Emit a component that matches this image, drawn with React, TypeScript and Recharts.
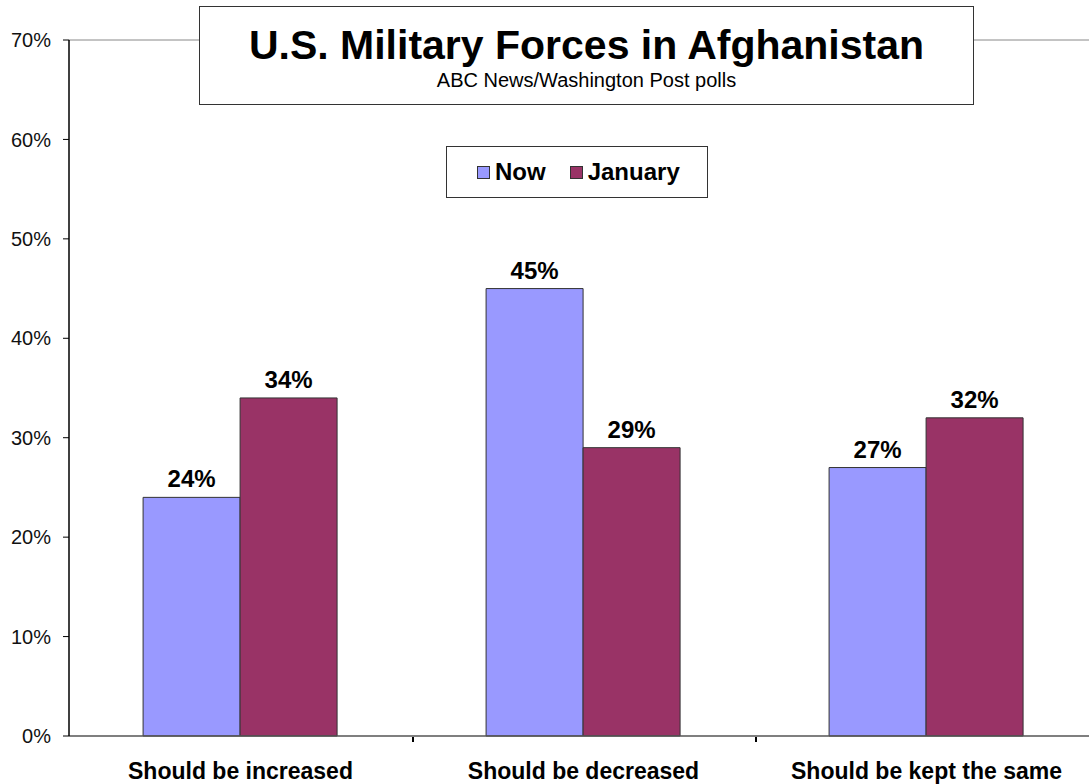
import { BarChart, Bar, XAxis, YAxis, ReferenceLine, LabelList } from 'recharts'

const categories = ['Should be increased', 'Should be decreased', 'Should be kept the same']
const nowValues = [24, 45, 27]
const januaryValues = [34, 29, 32]
const yTicks = [0, 10, 20, 30, 40, 50, 60, 70]

const data = categories.map((name, i) => ({ name, now: nowValues[i], january: januaryValues[i] }))

const FONT = '"Liberation Sans", Arial, sans-serif'
const NOW_COLOR = '#9999ff'
const JAN_COLOR = '#993366'

function XTick({ x, y, payload }: any) {
  return (
    <text x={x} y={y + 35} textAnchor="middle" fontFamily={FONT} fontSize={23} fontWeight="bold" fill="#000">
      {payload.value}
    </text>
  )
}

function LegendBox() {
  const item = (color: string, label: string) => (
    <span style={{ display: 'inline-flex', alignItems: 'center', marginRight: 24 }}>
      <span style={{ width: 11, height: 11, background: color, border: '1px solid #333', marginRight: 5 }} />
      <span>{label}</span>
    </span>
  )
  return (
    <div
      style={{
        position: 'absolute', left: 446, top: 146, width: 262, height: 52, border: '1.5px solid #333',
        background: '#fff', boxSizing: 'border-box', display: 'flex', alignItems: 'center',
        paddingLeft: 30, fontFamily: FONT, fontSize: 24, fontWeight: 'bold', color: '#000',
      }}
    >
      {item(NOW_COLOR, 'Now')}
      {item(JAN_COLOR, 'January')}
    </div>
  )
}

export default function App() {
  return (
    <div style={{ position: 'absolute', left: 0, top: 0, width: 1089, height: 784, overflow: 'hidden', background: '#fff' }}>
      <BarChart
        width={1100}
        height={784}
        data={data}
        margin={{ top: 40, right: 2, left: 0, bottom: 18 }}
        barCategoryGap="21.6%"
        barGap={0}
      >
        <ReferenceLine y={70} stroke="#888" strokeWidth={1} />
        <XAxis
          dataKey="name"
          height={30}
          tick={<XTick />}
          tickLine={false}
          axisLine={{ stroke: '#555', strokeWidth: 1.5 }}
          interval={0}
        />
        <YAxis
          width={69}
          domain={[0, 70]}
          ticks={yTicks}
          tickFormatter={(v) => `${v}%`}
          tick={{ fontFamily: FONT, fontSize: 20, fill: '#111' }}
          tickSize={6}
          tickMargin={12}
          tickLine={{ stroke: '#000' }}
          axisLine={{ stroke: '#000', strokeWidth: 1.5 }}
          interval={0}
        />
        <Bar dataKey="now" name="Now" fill={NOW_COLOR} stroke="#333" strokeWidth={1} isAnimationActive={false}>
          <LabelList
            dataKey="now"
            position="top"
            offset={10}
            formatter={(v: any) => `${v}%`}
            style={{ fontFamily: FONT, fontSize: 24, fontWeight: 'bold', fill: '#000' }}
          />
        </Bar>
        <Bar dataKey="january" name="January" fill={JAN_COLOR} stroke="#333" strokeWidth={1} isAnimationActive={false}>
          <LabelList
            dataKey="january"
            position="top"
            offset={10}
            formatter={(v: any) => `${v}%`}
            style={{ fontFamily: FONT, fontSize: 24, fontWeight: 'bold', fill: '#000' }}
          />
        </Bar>
      </BarChart>

      {/* category boundary ticks */}
      {[412, 755].map((x) => (
        <div key={x} style={{ position: 'absolute', left: x, top: 737, width: 1.5, height: 5, background: '#000' }} />
      ))}

      <LegendBox />

      {/* title box */}
      <div
        style={{
          position: 'absolute', left: 199, top: 6, width: 775, height: 99, border: '1.5px solid #333',
          background: '#fff', boxSizing: 'border-box', textAlign: 'center', fontFamily: FONT, color: '#000',
        }}
      >
        <div style={{ fontSize: 41, fontWeight: 'bold', marginTop: 15, lineHeight: '46px' }}>
          U.S. Military Forces in Afghanistan
        </div>
        <div style={{ fontSize: 20, lineHeight: '22px', marginTop: 1 }}>ABC News/Washington Post polls</div>
      </div>
    </div>
  )
}
